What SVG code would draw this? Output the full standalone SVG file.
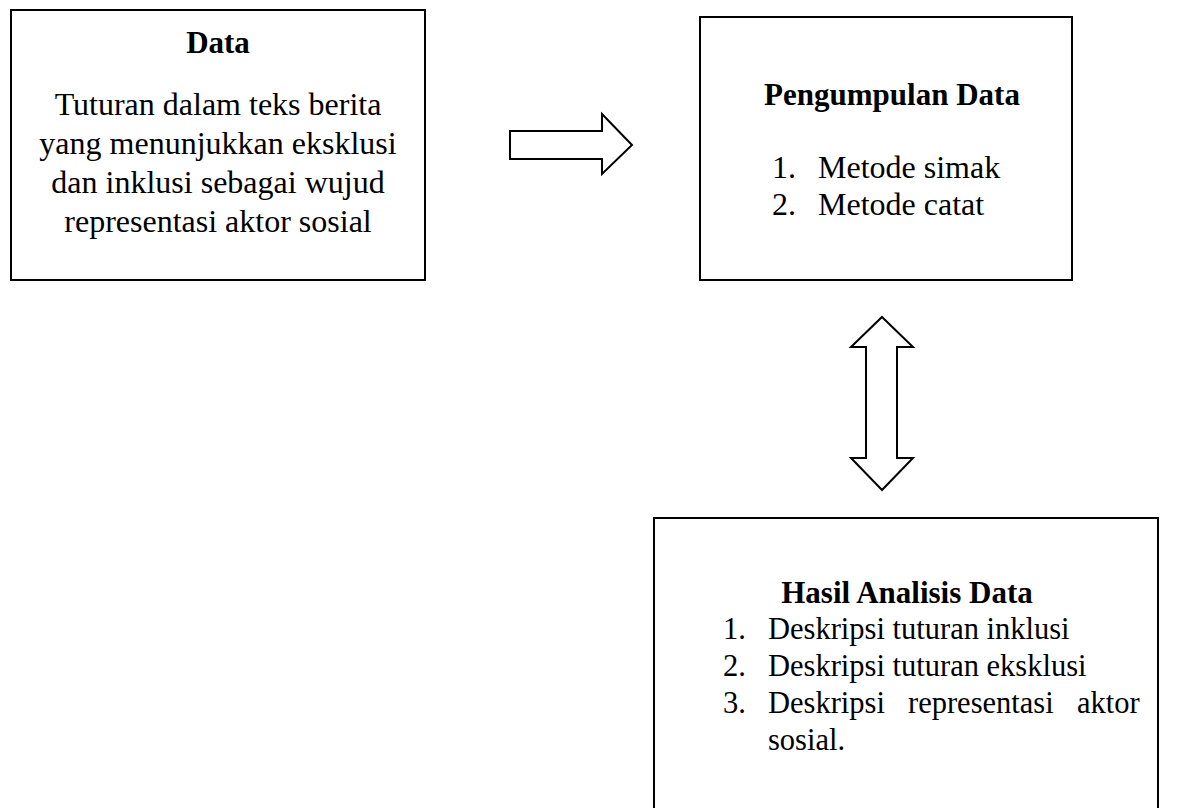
<svg xmlns="http://www.w3.org/2000/svg" width="1184" height="808" viewBox="0 0 1184 808">
<style>
.box{fill:#fff;stroke:#000;stroke-width:2}
.arr{fill:#fff;stroke:#000;stroke-width:2;stroke-linejoin:miter}
text{font-family:"Liberation Serif","Times New Roman",serif;fill:#000}
.h{font-weight:bold;font-size:31px;text-anchor:middle}
.b{font-size:32px}
.c{font-size:32px;text-anchor:middle}
.s{font-size:30.5px}
</style>
<rect width="1184" height="808" fill="#fff"/>
<g id="node-data">
<rect class="box" x="11" y="10" width="414" height="270"/>
<text class="h" x="218" y="53">Data</text>
<text class="c" x="218" y="115">Tuturan dalam teks berita</text>
<text class="c" x="218" y="154">yang menunjukkan eksklusi</text>
<text class="c" x="218" y="193">dan inklusi sebagai wujud</text>
<text class="c" x="218" y="232">representasi aktor sosial</text>
</g>
<g id="node-pengumpulan">
<rect class="box" x="700" y="17" width="372" height="263"/>
<text class="h" x="892" y="105">Pengumpulan Data</text>
<text class="b" x="772" y="178">1.</text>
<text class="b" x="818" y="178">Metode simak</text>
<text class="b" x="772" y="215">2.</text>
<text class="b" x="818" y="215">Metode catat</text>
</g>
<g id="node-hasil">
<rect class="box" x="654" y="518" width="504" height="300"/>
<text class="h" x="907" y="603">Hasil Analisis Data</text>
<text class="s" x="723" y="639">1.</text>
<text class="s" x="768" y="639">Deskripsi tuturan inklusi</text>
<text class="s" x="723" y="676">2.</text>
<text class="s" x="768" y="676">Deskripsi tuturan eksklusi</text>
<text class="s" x="723" y="713">3.</text>
<text class="s" y="713"><tspan x="768">Deskripsi</tspan><tspan x="908">representasi</tspan><tspan x="1077">aktor</tspan></text>
<text class="s" x="768" y="750">sosial.</text>
</g>
<g id="connectors">
<polygon class="arr" points="510,131 602,131 602,114 632,145 602,174 602,159 510,159"/>
<polygon class="arr" points="882,317 913,347 897,347 897,458 913,458 882,490 851,458 866,458 866,347 851,347"/>
</g>
</svg>
